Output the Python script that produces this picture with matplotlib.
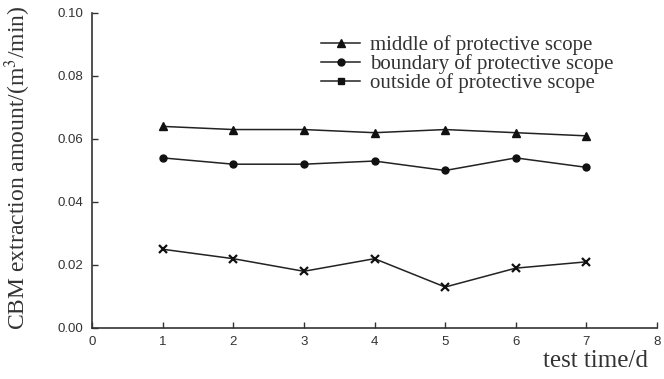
import matplotlib
matplotlib.use("Agg")
import matplotlib.pyplot as plt
from matplotlib.lines import Line2D

days = [1, 2, 3, 4, 5, 6, 7]
middle = [0.064, 0.063, 0.063, 0.062, 0.063, 0.062, 0.061]
boundary = [0.054, 0.052, 0.052, 0.053, 0.050, 0.054, 0.051]
outside = [0.025, 0.022, 0.018, 0.022, 0.013, 0.019, 0.021]
labels = ["middle of protective scope",
          "boundary of protective scope",
          "outside of protective scope"]

plt.rcParams["mathtext.fontset"] = "stix"
serif = ["Liberation Serif", "DejaVu Serif"]
tickfont = ["Liberation Sans Narrow", "Liberation Sans", "DejaVu Sans"]

fig = plt.figure(figsize=(6.64, 3.79), dpi=100)
ax = fig.add_axes([0.1386, 0.1346, 0.8509, 0.8311])

line_style = dict(color="#222222", linewidth=1.1, markeredgecolor="#111111",
                  markerfacecolor="#111111")
ax.plot(days, middle, marker="^", markersize=5.5, **line_style)
ax.plot(days, boundary, marker="o", markersize=5, **line_style)
ax.plot(days, outside, marker="x", markersize=5.5, markeredgewidth=1.6, **line_style)

ax.set_xlim(0, 8)
ax.set_ylim(0, 0.10)
ax.set_xticks(range(0, 9))
ax.set_yticks([0.00, 0.02, 0.04, 0.06, 0.08, 0.10])
ax.set_yticklabels(["0.00", "0.02", "0.04", "0.06", "0.08", "0.10"])
for lab in ax.get_xticklabels() + ax.get_yticklabels():
    lab.set_family(tickfont)
    lab.set_fontsize(9.5)
    lab.set_color("#333333")
ax.tick_params(axis="both", direction="in", length=4, width=1, color="#333333", pad=6)

for s in ["top", "right"]:
    ax.spines[s].set_visible(False)
for s in ["left", "bottom"]:
    ax.spines[s].set_color("#333333")
    ax.spines[s].set_linewidth(1.2)

ax.set_ylabel(r"CBM extraction amount/(m$^3$/min)", family=serif, fontsize=17,
              color="#333333")
ax.yaxis.set_label_coords(-0.105, 0.508)
ax.set_xlabel("test time/d", family=serif, fontsize=18, color="#333333", ha="right")
ax.xaxis.set_label_coords(0.984, -0.07)

handles = [
    Line2D([], [], marker="^", markersize=5.5, **line_style),
    Line2D([], [], marker="o", markersize=5, **line_style),
    Line2D([], [], marker="s", markersize=5, **line_style),
]
leg = ax.legend(handles, labels, loc="upper left", bbox_to_anchor=(0.405, 0.93),
                frameon=False, prop={"family": serif, "size": 15},
                labelspacing=-0.04, handlelength=1.9, handletextpad=0.45,
                borderpad=0, borderaxespad=0)
for t in leg.get_texts():
    t.set_color("#333333")

fig.savefig("out.png", dpi=100)
